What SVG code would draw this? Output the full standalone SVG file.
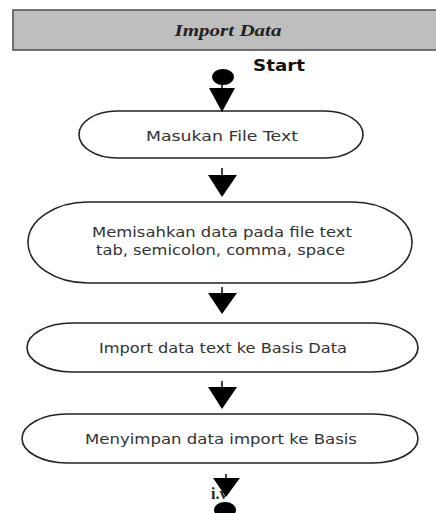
<svg xmlns="http://www.w3.org/2000/svg" width="436" height="513" viewBox="0 0 436 513">
<style>
.node{fill:#fff;stroke:#222;stroke-width:1.6}
.lbl{font-family:"DejaVu Sans",Verdana,sans-serif;font-size:14px;fill:#333;text-anchor:middle}
.stem{stroke:#000;stroke-width:1.5}
.head{fill:#000}
</style>
<rect width="436" height="513" fill="#fff"/>
<g id="header">
<rect x="13" y="10" width="430" height="40" fill="#bebebe" stroke="#555" stroke-width="1.6"/>
<text x="228" y="36" font-family="Liberation Serif,serif" font-size="17" font-weight="bold" font-style="italic" fill="#222" text-anchor="middle" textLength="107" lengthAdjust="spacingAndGlyphs">Import Data</text>
</g>
<g id="start">
<ellipse cx="223" cy="77" rx="11" ry="8" fill="#000"/>
<text x="253" y="71" font-family="DejaVu Sans,sans-serif" font-size="15" font-weight="bold" fill="#111" textLength="52" lengthAdjust="spacingAndGlyphs">Start</text>
</g>
<g id="n1">
<rect class="node" x="79" y="111" width="284" height="47" rx="38" ry="23.5"/>
<text class="lbl" x="222" y="141" textLength="152" lengthAdjust="spacingAndGlyphs">Masukan File Text</text>
</g>
<g id="n2">
<rect class="node" x="28" y="202" width="384" height="81" rx="60" ry="40.5"/>
<text class="lbl" x="222" y="237" textLength="260" lengthAdjust="spacingAndGlyphs">Memisahkan data pada file text</text>
<text class="lbl" x="220.5" y="255" textLength="249" lengthAdjust="spacingAndGlyphs">tab, semicolon, comma, space</text>
</g>
<g id="n3">
<rect class="node" x="27" y="323" width="391" height="49" rx="45" ry="24.5"/>
<text class="lbl" x="223" y="353" textLength="248" lengthAdjust="spacingAndGlyphs">Import data text ke Basis Data</text>
</g>
<g id="n4">
<rect class="node" x="22" y="414" width="396" height="49" rx="45" ry="24.5"/>
<text class="lbl" x="221" y="444" textLength="272" lengthAdjust="spacingAndGlyphs">Menyimpan  data import ke Basis</text>
</g>
<g id="end">
<ellipse cx="225" cy="510" rx="11" ry="8" fill="#000"/>
<text x="211" y="499" font-family="Liberation Serif,serif" font-size="16" font-weight="bold" fill="#222">i.v</text>
</g>
<g id="connectors">
<line class="stem" x1="222" y1="84" x2="222" y2="90"/>
<polygon class="head" points="209,88 235,88 222,112"/>
<line class="stem" x1="222" y1="168" x2="222" y2="177"/>
<polygon class="head" points="208,175 237,175 222,197"/>
<line class="stem" x1="222" y1="287" x2="222" y2="294"/>
<polygon class="head" points="208,293 237,293 222,314"/>
<line class="stem" x1="222" y1="381" x2="222" y2="388"/>
<polygon class="head" points="208,387 237,387 222,409"/>
<line class="stem" x1="226" y1="474" x2="226" y2="480"/>
<polygon class="head" points="213,478 240,478 226,497"/>
</g>
</svg>
